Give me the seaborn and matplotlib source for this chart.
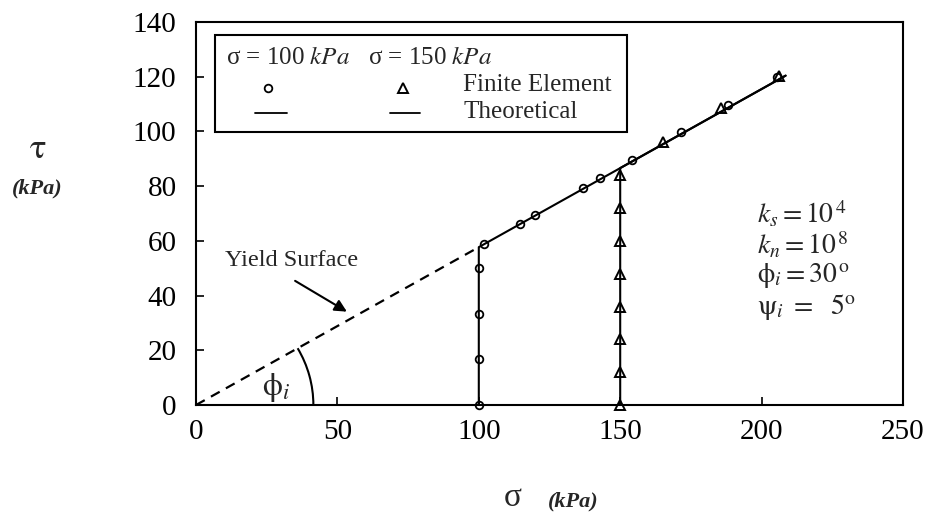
import numpy as np
import pandas as pd
import matplotlib
matplotlib.use("Agg")
import matplotlib.pyplot as plt
from matplotlib.patches import Arc, Rectangle
import seaborn as sns

# ---------------- data ----------------
fe100_sigma = [100, 100, 100, 100, 102, 114.5, 120, 137, 143, 154.3, 171.5, 188, 205.5]
fe100_tau = [0, 16.7, 33.3, 50, 59, 66.3, 69.3, 79.3, 83, 89.5, 99.8, 109.5, 119.9]

fe150_sigma = [150, 150, 150, 150, 150, 150, 150, 150, 165.3, 185.6, 206]
fe150_tau = [0, 12, 24, 36, 48, 60, 72, 84, 96, 108.6, 120.4]

th100_sigma = [100, 100, 208.5]
th100_tau = [0, 57.7, 120.4]
th150_sigma = [150, 150, 208.5]
th150_tau = [0, 86.6, 120.4]

yield_sigma = [0, 100]
yield_tau = [0, 57.7]

x_ticks = [0, 50, 100, 150, 200, 250]
y_ticks = [0, 20, 40, 60, 80, 100, 120, 140]

params_text = [r"$k_s = 10^{\,4}$", r"$k_n = 10^{\,8}$",
               r"$\mathrm{\phi}_i = 30^{\,\mathrm{o}}$",
               r"$\mathrm{\psi}_i\ =\ \ 5^{\mathrm{o}}$"]

# ---------------- style ----------------
sns.set_style("ticks")
plt.rcParams["font.family"] = ["Liberation Serif", "DejaVu Serif"]
plt.rcParams["mathtext.fontset"] = "stix"

fig = plt.figure(figsize=(9.26, 5.17), dpi=100)
ax = fig.add_axes([196 / 926, 1 - 405 / 517, 707 / 926, 383 / 517])

df_fe100 = pd.DataFrame({"sigma": fe100_sigma, "tau": fe100_tau})
df_fe150 = pd.DataFrame({"sigma": fe150_sigma, "tau": fe150_tau})
df_th100 = pd.DataFrame({"sigma": th100_sigma, "tau": th100_tau})
df_th150 = pd.DataFrame({"sigma": th150_sigma, "tau": th150_tau})
df_yield = pd.DataFrame({"sigma": yield_sigma, "tau": yield_tau})

lw = 1.5
sns.lineplot(data=df_yield, x="sigma", y="tau", sort=False, estimator=None,
             color="black", lw=1.6, linestyle=(0, (4.5, 3.2)), ax=ax)
sns.lineplot(data=df_th100, x="sigma", y="tau", sort=False, estimator=None,
             color="black", lw=lw, ax=ax)
sns.lineplot(data=df_th150, x="sigma", y="tau", sort=False, estimator=None,
             color="black", lw=lw, ax=ax)

ax.plot(df_fe100["sigma"], df_fe100["tau"], linestyle="none", marker="o",
        markersize=5.5, markerfacecolor="none", markeredgecolor="black",
        markeredgewidth=1.3, clip_on=False, zorder=5)
ax.plot(df_fe150["sigma"], df_fe150["tau"], linestyle="none", marker="^",
        markersize=7.5, markerfacecolor="none", markeredgecolor="black",
        markeredgewidth=1.4, clip_on=False, zorder=5)

ax.set_xlim(0, 250)
ax.set_ylim(0, 140)
ax.set_xticks(x_ticks)
ax.set_yticks(y_ticks)
ax.tick_params(axis="both", direction="in", length=6, width=1.2,
               labelsize=21, colors="black")
ax.tick_params(axis="x", pad=10)
ax.tick_params(axis="y", pad=14)
for s in ax.spines.values():
    s.set_visible(True)
    s.set_linewidth(1.5)
    s.set_color("black")
ax.set_xlabel("")
ax.set_ylabel("")

# angle arc and label
ax.add_patch(Arc((0, 0), 83, 83, theta1=0, theta2=30, color="black", lw=1.5))
ax.text(28.5, 6.3, r"$\mathrm{\phi}_i$", fontsize=23, ha="center", va="center")

# Yield surface annotation
ax.annotate("", xy=(54.2, 33.6), xytext=(34.2, 45.9),
            arrowprops=dict(arrowstyle="-|>", color="black", lw=1.5,
                            mutation_scale=18))
ax.text(10.3, 53, "Yield Surface", fontsize=17.5, ha="left", va="center")

# parameter block
for i, t in enumerate(params_text):
    ax.text((757 - 196) / 707, (405 - (214 + i * 31)) / 383, t,
            transform=ax.transAxes, fontsize=20, ha="left", va="center")

# legend box (custom layout)
tr = ax.transAxes
ax.add_patch(Rectangle((0.0273, 0.7136), 0.609 - 0.0273, 0.966 - 0.7136,
                       transform=tr, fill=False, edgecolor="black", lw=1.5,
                       zorder=6))
ax.text(0.0424, 0.905, "σ = 100 $kPa$", transform=tr, fontsize=18,
        ha="left", va="center")
ax.text(0.2433, 0.905, "σ = 150 $kPa$", transform=tr, fontsize=18,
        ha="left", va="center")
ax.plot([0.1023], [0.8285], transform=tr, marker="o", markersize=5.5,
        markerfacecolor="none", markeredgecolor="black", markeredgewidth=1.3)
ax.plot([0.2932], [0.8285], transform=tr, marker="^", markersize=7.5,
        markerfacecolor="none", markeredgecolor="black", markeredgewidth=1.4)
ax.text(0.378, 0.835, "Finite Element", transform=tr, fontsize=18,
        ha="left", va="center")
ax.plot([0.0835, 0.1283], [0.7624, 0.7624], transform=tr, color="black", lw=1.3)
ax.plot([0.2744, 0.3168], [0.7624, 0.7624], transform=tr, color="black", lw=1.3)
ax.text(0.378, 0.766, "Theoretical", transform=tr, fontsize=18,
        ha="left", va="center")

# axis labels
fig.text(38 / 926, 1 - 149 / 517, r"$\mathrm{\tau}$", fontsize=25,
         ha="center", va="center")
fig.text(37.5 / 926, 1 - 188 / 517, "(kPa)", fontsize=16, style="italic",
         weight="bold", ha="center", va="center")
fig.text(513 / 926, 1 - 498 / 517, "σ", fontsize=24, ha="center", va="center")
fig.text(548 / 926, 1 - 501 / 517, "(kPa)", fontsize=16, style="italic",
         weight="bold", ha="left", va="center")

fig.savefig("out.png", dpi=100, facecolor="white")
